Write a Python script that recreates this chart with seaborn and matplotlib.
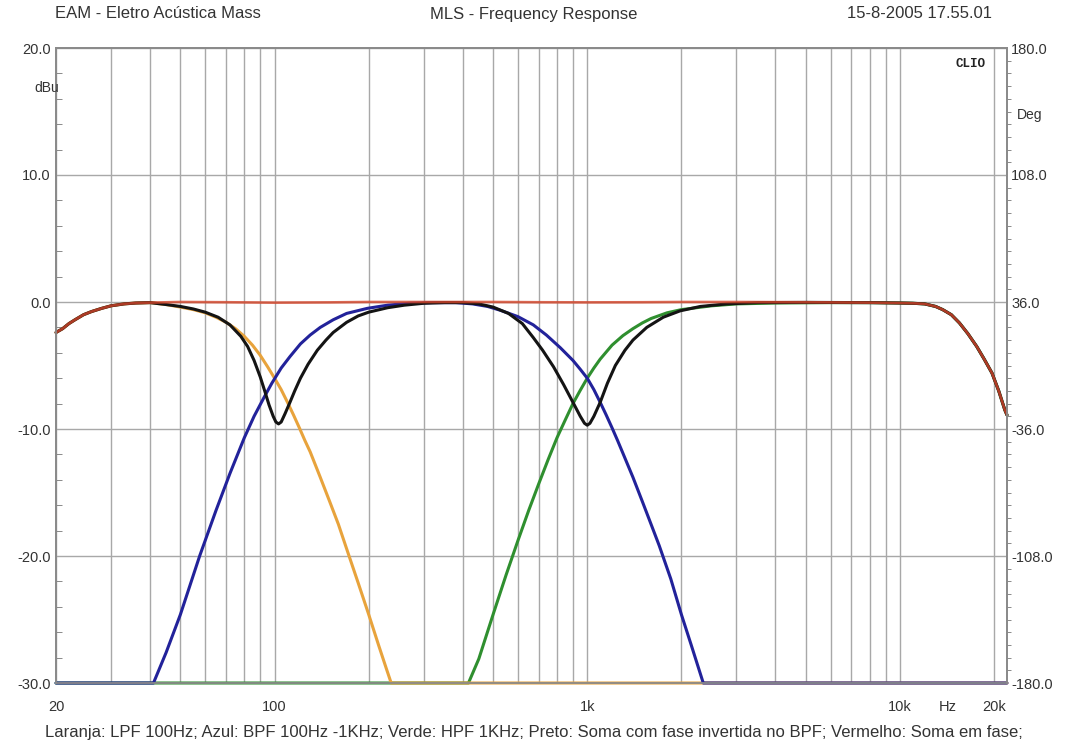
import matplotlib
matplotlib.use("Agg")
import matplotlib.pyplot as plt
from matplotlib.ticker import FixedLocator, NullFormatter
import seaborn as sns
import numpy as np
import pandas as pd

# ---- data (Hz, dBu) ----
lf_f = [20, 21, 22, 23, 24.5, 26, 28, 30, 33, 36, 40]
lf_db = [-2.4, -2.1, -1.7, -1.4, -1.0, -0.75, -0.5, -0.3, -0.15, -0.08, -0.05]

hf_f = [10000, 11000, 12000, 13000, 13700, 14600, 15500, 16500, 17600, 18600, 19700, 20700,
        21650, 22000]
hf_db = [-0.08, -0.1, -0.15, -0.35, -0.6, -1.0, -1.65, -2.5, -3.5, -4.5, -5.6, -7.0, -8.5, -8.9]

orange_f = lf_f + [45, 50, 55, 60, 65, 70, 75, 80, 85, 90, 95, 100, 105, 110, 115, 120, 125,
                   130, 140, 150, 160, 172, 185, 200, 215, 228, 236, 22000]
orange_db = lf_db + [-0.2, -0.4, -0.6, -0.85, -1.2, -1.6, -2.1, -2.7, -3.4, -4.2, -5.1, -6.0,
                     -6.9, -7.9, -8.9, -9.9, -10.9, -11.8, -13.8, -15.7, -17.5, -19.8, -22.1,
                     -24.6, -27.0, -28.9, -30.0, -30.0]

blue_f = [20, 41, 45, 50, 57.6, 65, 72, 80, 86, 92.6, 98, 105, 112, 121, 130, 140, 154, 170,
          198, 230, 270, 320, 380, 430, 480, 527, 600, 672, 740, 820, 900, 950, 1000, 1050,
          1100, 1150, 1200, 1250, 1300, 1400, 1500, 1600, 1700, 1850, 2000, 2150, 2350, 22000]
blue_db = [-30, -30, -27.6, -24.6, -20.0, -16.4, -13.5, -10.7, -9.0, -7.5, -6.4, -5.2, -4.3,
           -3.3, -2.6, -2.0, -1.4, -0.9, -0.5, -0.25, -0.1, -0.05, -0.05, -0.15, -0.35, -0.65,
           -1.15, -1.8, -2.6, -3.6, -4.6, -5.3, -6.0, -6.9, -7.9, -8.9, -9.9, -10.9, -11.9,
           -13.8, -15.7, -17.5, -19.2, -21.8, -24.6, -27.0, -30, -30]

green_f = [20, 417, 450, 500, 550, 600, 650, 700, 750, 800, 850, 900, 950, 1000, 1050, 1100,
           1200, 1300, 1400, 1500, 1600, 1800, 2000, 2500, 3000, 4000, 6000, 8000] + hf_f
green_db = [-30, -30, -28.1, -24.6, -21.5, -18.8, -16.4, -14.3, -12.4, -10.7, -9.3, -8.0, -6.95,
            -6.0, -5.2, -4.5, -3.4, -2.65, -2.1, -1.65, -1.3, -0.85, -0.6, -0.3, -0.15, -0.08,
            -0.05, -0.05] + hf_db

black_f = lf_f + [45, 50, 55, 60, 66, 72, 78, 82, 86, 90, 93, 96, 99, 101, 103, 105, 108, 112,
                  116, 121, 128, 137, 146, 154, 170, 185, 200, 230, 260, 300, 350, 400, 450, 500,
                  560, 620, 672, 720, 780, 840, 900, 950, 980, 1000, 1020, 1050, 1100, 1160,
                  1230, 1320, 1400, 1550, 1750, 1980, 2300, 2800, 3500, 5000, 8000] + hf_f
black_db = lf_db + [-0.2, -0.35, -0.55, -0.8, -1.2, -1.8, -2.7, -3.5, -4.6, -5.9, -7.0, -8.1,
                    -9.0, -9.45, -9.6, -9.45, -8.8, -7.9, -7.0, -6.0, -4.9, -3.8, -3.0, -2.4,
                    -1.6, -1.1, -0.8, -0.45, -0.25, -0.1, -0.05, -0.05, -0.15, -0.4, -0.9, -1.7,
                    -2.8, -3.8, -5.1, -6.5, -7.9, -9.0, -9.55, -9.7, -9.55, -9.0, -7.9, -6.4,
                    -5.0, -3.8, -3.0, -2.0, -1.2, -0.7, -0.35, -0.15, -0.05, -0.03, -0.05] + hf_db

red_f = lf_f + [50, 70, 100, 150, 200, 300, 500, 700, 1000, 1500, 2000, 3000, 5000, 8000] + hf_f
red_db = lf_db + [0.0, -0.02, -0.05, -0.03, 0.0, 0.0, 0.0, -0.02, -0.03, -0.02, 0.0, 0.0,
                  -0.02, -0.05] + hf_db

left_ticks = [-30, -20, -10, 0, 10, 20]
right_ticks = [-180, -108, -36, 36, 108, 180]
x_tick_pos = [20, 100, 1000, 10000, 14200, 20000]
x_tick_lab = ["20", "100", "1k", "10k", "Hz", "20k"]

caption = ("Laranja: LPF 100Hz; Azul: BPF 100Hz -1KHz; Verde: HPF 1KHz; "
           "Preto: Soma com fase invertida no BPF; Vermelho: Soma em fase;")

series = [
    ("green", green_f, green_db, "#2f8f2f", 2.2, 1.0),
    ("orange", orange_f, orange_db, "#e8a33c", 2.2, 1.0),
    ("blue", blue_f, blue_db, "#22229a", 2.2, 1.0),
    ("black", black_f, black_db, "#141414", 2.2, 1.0),
    ("red", red_f, red_db, "#d4452a", 1.9, 0.8),
]

sns.set_style("white")
plt.rcParams["font.family"] = ["Liberation Sans", "DejaVu Sans"]
txt = "#333333"
gridc = "#a8a8a8"

fig = plt.figure(figsize=(10.68, 7.47), dpi=100)
ax = fig.add_axes([56 / 1068, 1 - 683 / 747, 951 / 1068, 635 / 747])

for name, f, db, col, lw, al in series:
    df = pd.DataFrame({"f": f, "db": db})
    sns.lineplot(data=df, x="f", y="db", ax=ax, color=col, linewidth=lw, alpha=al,
                 estimator=None, sort=False, clip_on=False, zorder=3)

ax.set_xscale("log")
ax.set_xlim(20, 22000)
ax.set_ylim(-30, 20)
ax.set_xlabel("")
ax.set_ylabel("")

# vertical grid at every 1..9 multiple
minor = [m * 10 ** e for e in range(1, 5) for m in range(1, 10) if 20 <= m * 10 ** e <= 20000]
ax.xaxis.remove_overlapping_locs = False
ax.xaxis.set_major_locator(FixedLocator(x_tick_pos))
ax.set_xticklabels(x_tick_lab)
ax.xaxis.set_minor_locator(FixedLocator(minor))
ax.xaxis.set_minor_formatter(NullFormatter())
ax.grid(True, which="minor", axis="x", color=gridc, linewidth=1.0)
ax.grid(False, which="major", axis="x")
ax.tick_params(axis="x", which="both", length=0, pad=12, labelsize=10.5, labelcolor=txt)

ax.set_yticks(left_ticks)
ax.set_yticklabels([f"{v:.1f}" for v in left_ticks])
ax.set_yticks(np.arange(-30, 21, 2), minor=True)
ax.grid(True, which="major", axis="y", color=gridc, linewidth=1.0)
ax.tick_params(axis="y", which="major", length=0, pad=4, labelsize=10.5, labelcolor=txt)
ax.tick_params(axis="y", which="minor", direction="in", length=4, color="#777777")

ax2 = ax.twinx()
ax2.set_ylim(-180, 180)
ax2.set_yticks(right_ticks)
ax2.set_yticklabels([f"{v:.1f}" for v in right_ticks])
ax2.set_yticks(np.arange(-180, 181, 7.2), minor=True)
ax2.tick_params(axis="y", which="major", length=0, pad=3, labelsize=10.5, labelcolor=txt)
ax2.tick_params(axis="y", which="minor", direction="out", length=3, color="#777777")
ax2.grid(False)

for a in (ax, ax2):
    for s in a.spines.values():
        s.set_color("#8a8a8a")
        s.set_linewidth(1.3)
ax.set_axisbelow(True)

fig.text(47 / 1068, 1 - 88 / 747, "dBu", ha="center", va="center", fontsize=10, color=txt)
fig.text(1030 / 1068, 1 - 115 / 747, "Deg", ha="center", va="center", fontsize=10, color=txt)
ax.text(0.977, 0.984, "CLIO", transform=ax.transAxes, ha="right", va="top",
        fontsize=9, family="Liberation Mono", weight="bold", color="#222222")

fig.text(55 / 1068, 1 - 14 / 747, "EAM - Eletro Acústica Mass", ha="left", va="center",
         fontsize=12, color=txt)
fig.text(534 / 1068, 1 - 14 / 747, "MLS - Frequency Response", ha="center", va="center",
         fontsize=12, color=txt)
fig.text(992 / 1068, 1 - 14 / 747, "15-8-2005 17.55.01", ha="right", va="center",
         fontsize=12, color=txt)
fig.text(534 / 1068, 1 - 733 / 747, caption, ha="center", va="center", fontsize=12, color=txt)

fig.savefig("out.png", dpi=100, facecolor="white")
